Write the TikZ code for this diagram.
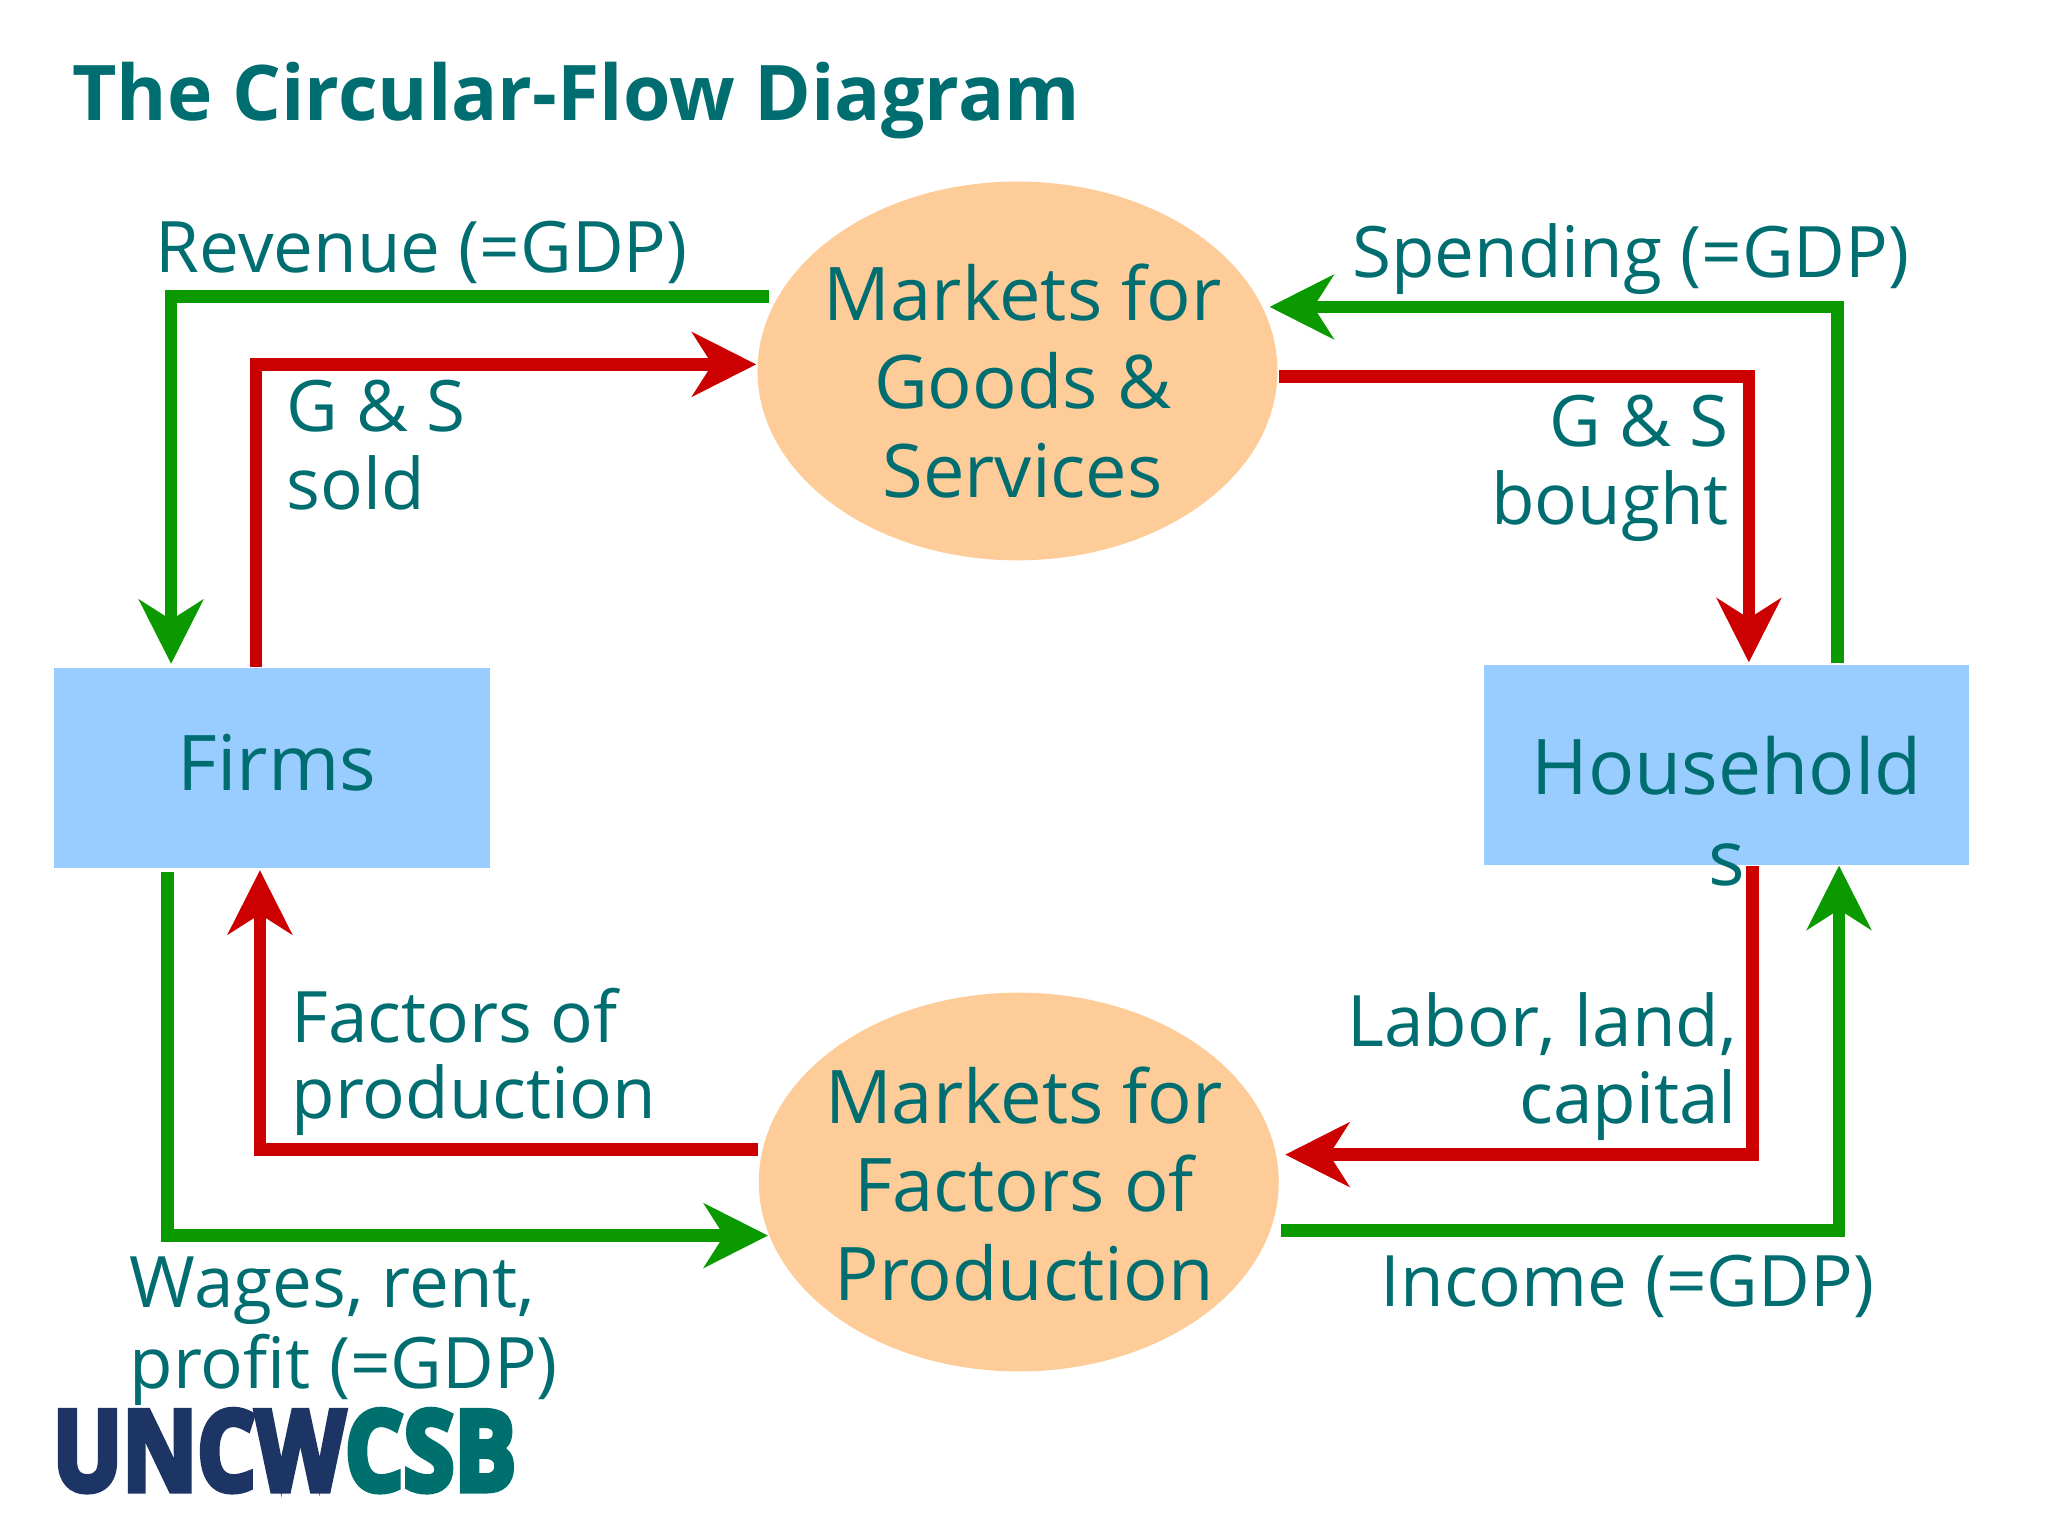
\documentclass[tikz,border=0pt]{standalone}
\usepackage{fontspec}
\setmainfont{Open Sans}
\usetikzlibrary{arrows.meta,shapes.geometric,calc}
\definecolor{teal1}{HTML}{006E71}
\definecolor{logoteal}{HTML}{00706F}
\definecolor{navy1}{HTML}{1D3565}
\definecolor{redf}{HTML}{CC0000}
\definecolor{greenf}{HTML}{0A9A00}
\definecolor{peach}{HTML}{FDCC99}
\definecolor{skyb}{HTML}{99CCFF}
\tikzset{
 market/.style={ellipse,fill=peach,inner sep=0pt,minimum width=260pt,minimum height=189.4pt},
 agent/.style={rectangle,fill=skyb,inner sep=0pt},
 lab/.style={text=teal1,inner sep=0pt,font=\fontsize{35.5}{39}\selectfont},
 big/.style={text=teal1,inner sep=0pt,align=center,font=\fontsize{37}{44.2}\selectfont},
 box label/.style={text=teal1,inner sep=0pt,anchor=base,font=\fontsize{38.4}{44}\selectfont},
 flow/.style={line width=6.35pt,miter limit=10},
 redflow/.style={flow,draw=redf,-{Stealth[length=32pt,width=32pt,inset=10pt,fill=redf]}},
 greenflow/.style={flow,draw=greenf,-{Stealth[length=32pt,width=32pt,inset=10pt,fill=greenf]}},
}
\newcommand{\heavy}[1]{\special{pdf:code 2 Tr 3.2 w}#1\special{pdf:code 0 Tr}}
\begin{document}
\begin{tikzpicture}[x=0.6531pt,y=-0.6531pt]
\useasboundingbox (0,0) rectangle (1568,1176);
\fill[white] (0,0) rectangle (1568,1176);
\node[anchor=base west,inner sep=0pt,text=teal1,font=\fontsize{38.4}{44}\selectfont\bfseries] (title) at (55,92) {The Circular-Flow Diagram};
\node[market] (mg) at (779,284) {};
\node[market] (mf) at (780,905) {};
\node[big] (mgt) at (783,291.5) {Markets for\\Goods \&\\Services};
\node[big] (mft) at (784,906.5) {Markets for\\Factors of\\Production};
\node[agent,minimum width=218.1pt,minimum height=100pt,anchor=north west] (firms) at (41,511) {};
\node[agent,minimum width=242.3pt,minimum height=100pt,anchor=north west] (house) at (1136,509) {};
\node[box label] (firmst) at (212,605) {Firms};
\node[box label] (houset) at (1322,608) {Household};
\node[box label] (housets) at (1322,678) {s};
% free ends and columns
\coordinate (revS) at (589,227);
\coordinate (gsE) at (579,279);
\coordinate (spE) at (972,235);
\coordinate (buyS) at (979,288);
\coordinate (labE) at (984,884);
\coordinate (incS) at (981,942);
\coordinate (facS) at (580,880);
\coordinate (wagE) at (588,946);
\coordinate (c131) at (131,0);
\coordinate (c196) at (196,0);
\coordinate (c199) at (199,0);
\coordinate (c128) at (128,0);
\coordinate (c1339) at (1339,0);
\coordinate (c1342) at (1342,0);
\coordinate (c1407) at (1407,0);
\coordinate (c1408) at (1408,0);
\draw[greenflow,shorten >=1.8pt] (revS) -| (firms.north -| c131);
\draw[redflow] (firms.north -| c196) |- (gsE);
\draw[greenflow,shorten <=0.8pt] (house.north -| c1407) |- (spE);
\draw[redflow,shorten >=1.2pt] (buyS) -| (house.north -| c1339);
\draw[redflow] (house.south -| c1342) |- (labE);
\draw[greenflow] (incS) -| (house.south -| c1408);
\draw[redflow,shorten >=1pt] (facS) -| (firms.south -| c199);
\draw[greenflow,shorten <=2pt] (firms.south -| c128) |- (wagE);
\node[lab,anchor=base west] (l1) at (119,208.5) {Revenue (=GDP)};
\node[lab,anchor=base west] (l2) at (1035,212.5) {Spending (=GDP)};
\node[lab,anchor=base west] (l3a) at (219,330) {G \& S};
\node[lab,anchor=base west] (l3b) at (219,390) {sold};
\node[lab,anchor=base east] (l4a) at (1324,342) {G \& S};
\node[lab,anchor=base east] (l4b) at (1324,401.5) {bought};
\node[lab,anchor=base west] (l5a) at (223,798) {Factors of};
\node[lab,anchor=base west] (l5b) at (223,856.5) {production};
\node[lab,anchor=base east] (l6a) at (1330,801) {Labor, land,};
\node[lab,anchor=base east] (l6b) at (1330,860.5) {capital};
\node[lab,anchor=base west] (l7a) at (99,1001) {Wages, rent,};
\node[lab,anchor=base west] (l7b) at (99,1063) {profit (=GDP)};
\node[lab,anchor=base west] (l8) at (1057,1000) {Income (=GDP)};
\node[anchor=base west,inner sep=0pt,font=\fontsize{55.5}{60}\selectfont\bfseries] (logo) at (40,1141) {\heavy{\scalebox{0.83}[1]{\textcolor{navy1}{UNCW}\textcolor{logoteal}{CSB}}}};
\end{tikzpicture}
\end{document}
